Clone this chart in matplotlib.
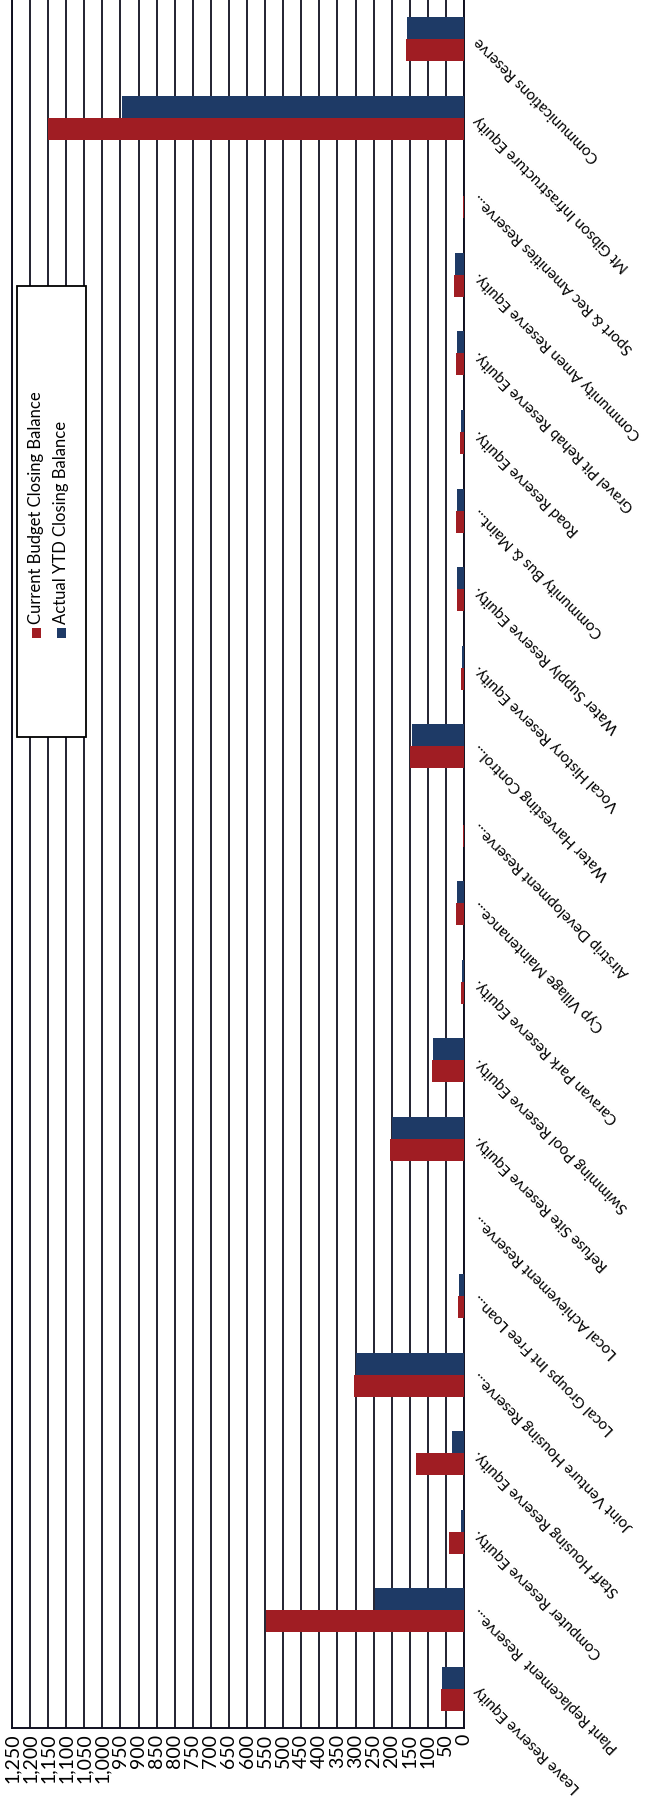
import matplotlib.pyplot as plt
from matplotlib.patches import Rectangle

# reserve names, first one sits at the bottom of the chart
categories = [
    "Leave Reserve Equity",
    "Plant Replacement  Reserve...",
    "Computer Reserve Equity.",
    "Staff Housing Reserve Equity.",
    "Joint Venture Housing Reserve...",
    "Local Groups Int Free Loan...",
    "Local Achievement Reserve...",
    "Refuse Site Reserve Equity.",
    "Swimming Pool Reserve Equity.",
    "Caravan Park Reserve Equity.",
    "Cyp Village Maintenance...",
    "Airstrip Development Reserve...",
    "Water Harvesting Control...",
    "Vocal History Reserve Equity.",
    "Water Supply Reserve Equity.",
    "Community Bus & Maint...",
    "Road Reserve Equity.",
    "Gravel Pit Rehab Reserve Equity.",
    "Community Amen Reserve Equity.",
    "Sport & Rec Amenities Reserve...",
    "Mt Gibson Infrastructure Equity",
    "Communications Reserve",
]
budget_balance = [63, 548, 42, 134, 305, 16, 1, 205, 88, 9, 23, 3, 148, 8, 20, 21, 11, 22, 28, 3, 1150, 160]
actual_balance = [60, 246, 8, 33, 300, 13, 0, 200, 86, 6, 19, 1, 143, 5, 18, 19, 9, 19, 25, 0, 946, 158]
value_ticks = list(range(0, 1251, 50))

RED = '#A01D23'
BLUE = '#1E3A66'
LINE = '#101020'

plt.rcParams['font.family'] = ['Lato', 'DejaVu Sans']

W, H = 646, 1804
fig = plt.figure(figsize=(W / 100, H / 100), dpi=100, facecolor='white')
ax = fig.add_axes([12 / W, (H - 1728) / H, (464 - 12) / W, 1728 / H])

pos = list(range(len(categories)))
ax.barh([p - 0.14 for p in pos], budget_balance, height=0.28, color=RED, zorder=3)
ax.barh([p + 0.14 for p in pos], actual_balance, height=0.28, color=BLUE, zorder=3)

ax.set_xlim(1250, 0)
ax.set_ylim(-0.5, len(categories) - 0.5)
ax.set_xticks(value_ticks)
ax.set_xticklabels([f'{v:,}' for v in value_ticks], rotation=90, fontsize=14)
ax.grid(axis='x', color=LINE, lw=1.3, zorder=0)
ax.set_axisbelow(True)

ax.yaxis.tick_right()
ax.set_yticks(pos)
ax.set_yticklabels(categories, rotation=135, ha='right', va='center',
                   rotation_mode='anchor', fontsize=11)
ax.tick_params(axis='both', length=0)
ax.tick_params(axis='y', pad=9)
ax.tick_params(axis='x', pad=4)

ax.spines['top'].set_visible(False)
for s in ['left', 'right', 'bottom']:
    ax.spines[s].set_color(LINE)
    ax.spines[s].set_linewidth(1.4)


def fx(x):
    return x / W


def fy(y):
    return 1 - y / H


# legend box, drawn by hand so the entries can run upward
fig.add_artist(Rectangle((fx(17), fy(737)), 69 / W, 451 / H, transform=fig.transFigure,
                         facecolor='white', edgecolor='black', lw=1.3, zorder=5))
entries = [("Current Budget Closing Balance", RED, 36),
           ("Actual YTD Closing Balance", BLUE, 61)]
for label, color, x in entries:
    fig.add_artist(Rectangle((fx(x - 4.5), fy(638)), 9 / W, 10 / H, transform=fig.transFigure,
                             facecolor=color, edgecolor='none', zorder=6))
    fig.text(fx(x), fy(624), label, rotation=90, ha='center', va='bottom',
             fontsize=12, zorder=7)

fig.savefig('out.png', dpi=100, facecolor='white')
